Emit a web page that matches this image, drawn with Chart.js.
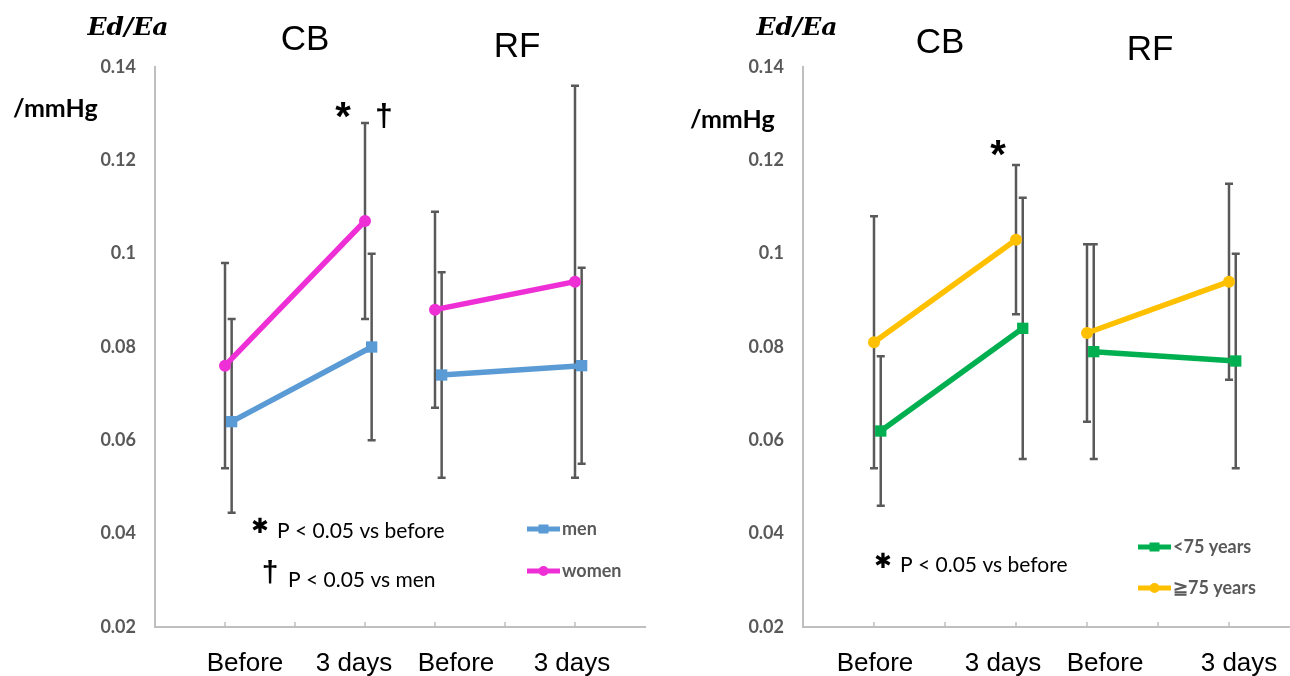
<!DOCTYPE html>
<html>
<head>
<meta charset="utf-8">
<script src="https://cdn.jsdelivr.net/npm/chart.js@4.4.1/dist/chart.umd.min.js"></script>
<style>
  html, body { margin: 0; padding: 0; background: #fff; overflow: hidden; }
  body { width: 1290px; height: 676px; position: relative; }
  .panel { position: absolute; top: 0; }
</style>
</head>
<body>
<div class="panel" style="left:0"><canvas id="sex-chart" width="660" height="676"></canvas></div>
<div class="panel" style="left:650px"><canvas id="age-chart" width="660" height="676"></canvas></div>
<script>
// ---- data (Ed/Ea, /mmHg) ----
const groups = ['CB', 'RF'];
const timepoints = ['Before', '3 days', 'Before', '3 days'];
const yTicks = [0.02, 0.04, 0.06, 0.08, 0.1, 0.12, 0.14];

const menMean = [0.064, 0.080, 0.074, 0.076];
const menLow = [0.0445, 0.060, 0.052, 0.055];
const menHigh = [0.086, 0.100, 0.096, 0.097];

const womenMean = [0.076, 0.107, 0.088, 0.094];
const womenLow = [0.054, 0.086, 0.067, 0.052];
const womenHigh = [0.098, 0.128, 0.109, 0.136];

const youngMean = [0.062, 0.084, 0.079, 0.077];
const youngLow = [0.046, 0.056, 0.056, 0.054];
const youngHigh = [0.078, 0.112, 0.102, 0.100];

const oldMean = [0.081, 0.103, 0.083, 0.094];
const oldLow = [0.054, 0.087, 0.064, 0.073];
const oldHigh = [0.108, 0.119, 0.102, 0.115];

// ---- layout ----
const slots = [1, 3, 4, 6];          // where the four time points sit on the 0..7 x axis
const tickSlots = [1, 2, 3, 4, 5, 6];
const seriesShift = 0.095;           // second series is nudged right so the bars don't overlap

const AXIS_GREY = '#bfbfbf';
const TEXT_GREY = '#595959';
const BAR_GREY = '#595959';

function withBreak(values, mapFn) {
  const out = [];
  values.forEach((v, i) => {
    out.push(mapFn(v, i));
    if (i === 1) out.push(null); // gap between CB and RF
  });
  return out;
}

function buildPoints(mean, shift) {
  const pts = withBreak(mean, (v, i) => ({ x: slots[i] + shift, y: v }));
  pts[2] = { x: (slots[1] + slots[2]) / 2, y: null };
  return pts;
}

function buildErrors(low, high) {
  return withBreak(low, (v, i) => [v, high[i]]);
}

function drawText(ctx, text, x, y, font, color, align, baseline) {
  ctx.font = font;
  ctx.fillStyle = color || '#000';
  ctx.textAlign = align || 'left';
  ctx.textBaseline = baseline || 'alphabetic';
  ctx.fillText(text, x, y);
}

const errorBarPlugin = {
  id: 'errorBars',
  beforeDatasetsDraw(chart) {
    const { ctx, scales: { x, y } } = chart;
    ctx.save();
    ctx.strokeStyle = BAR_GREY;
    ctx.lineWidth = 2.5;
    chart.data.datasets.forEach(ds => {
      ds.data.forEach((p, i) => {
        const e = ds.errors[i];
        if (!e || p.y === null) return;
        const px = x.getPixelForValue(p.x);
        const top = y.getPixelForValue(e[1]);
        const bot = y.getPixelForValue(e[0]);
        ctx.beginPath();
        ctx.moveTo(px, top); ctx.lineTo(px, bot);
        ctx.moveTo(px - 4, top); ctx.lineTo(px + 4, top);
        ctx.moveTo(px - 4, bot); ctx.lineTo(px + 4, bot);
        ctx.stroke();
      });
    });
    ctx.restore();
  }
};

const decorPlugin = {
  id: 'decor',
  afterDraw(chart, args, opts) {
    const { ctx, chartArea, scales: { x } } = chart;
    ctx.save();

    // small inward tick marks on the x axis
    ctx.strokeStyle = AXIS_GREY;
    ctx.lineWidth = 1.5;
    tickSlots.forEach(t => {
      const px = x.getPixelForValue(t);
      ctx.beginPath();
      ctx.moveTo(px, chartArea.bottom);
      ctx.lineTo(px, chartArea.bottom - 5);
      ctx.stroke();
    });

    // time point labels and group titles
    timepoints.forEach((t, i) => {
      drawText(ctx, t, x.getPixelForValue(opts.labelsAt[i]), 671, '26px "Liberation Sans"', '#000', 'center');
    });
    groups.forEach((g, i) => {
      const tt = opts.titles[i];
      drawText(ctx, g, x.getPixelForValue(tt.at), tt.y, '35px "Liberation Sans"', '#000', 'center');
    });

    // free text: axis unit, significance marks, footnotes
    opts.notes.forEach(n => drawText(ctx, n.text, n.x, n.y, n.font, n.color, n.align, n.baseline));

    // legend
    const lg = opts.legend;
    chart.data.datasets.forEach((ds, i) => {
      const ly = lg.y + i * lg.dy;
      ctx.strokeStyle = ds.borderColor;
      ctx.fillStyle = ds.borderColor;
      ctx.lineWidth = 5;
      ctx.beginPath();
      ctx.moveTo(lg.x, ly);
      ctx.lineTo(lg.x + 33, ly);
      ctx.stroke();
      const cx = lg.x + 16.5;
      if (ds.pointStyle === 'rect') {
        ctx.fillRect(cx - 5, ly - 4.5, 10, 9);
      } else {
        ctx.beginPath();
        ctx.arc(cx, ly, 5, 0, Math.PI * 2);
        ctx.fill();
      }
      drawText(ctx, ds.label, lg.x + 35, ly + 6, 'bold 18px Lato', TEXT_GREY, 'left');
    });

    ctx.restore();
  }
};

function makeSeries(label, mean, low, high, color, pointStyle, shift) {
  return {
    label,
    data: buildPoints(mean, shift),
    errors: buildErrors(low, high),
    borderColor: color,
    backgroundColor: color,
    borderWidth: 5.5,
    pointStyle,
    pointRadius: pointStyle === 'rect' ? 8 : 6,
    pointBorderWidth: 0,
    spanGaps: false,
    tension: 0
  };
}

function makeChart(canvasId, datasets, layout) {
  return new Chart(document.getElementById(canvasId), {
    type: 'line',
    data: { datasets },
    options: {
      responsive: false,
      animation: false,
      devicePixelRatio: 1,
      layout: { padding: { top: 67, right: layout.padRight, bottom: 0, left: 0 } },
      plugins: {
        legend: { display: false },
        tooltip: { enabled: false },
        decor: layout
      },
      scales: {
        x: {
          type: 'linear', min: 0, max: 7,
          afterFit: s => { s.height = 49; },
          grid: { display: false, drawTicks: false },
          border: { color: AXIS_GREY, width: 2 },
          ticks: { display: false }
        },
        y: {
          type: 'linear', min: 0.02, max: 0.14,
          afterBuildTicks: s => { s.ticks = yTicks.map(v => ({ value: v })); },
          afterFit: s => { s.width = layout.yWidth; },
          grid: { display: false, drawTicks: false },
          border: { color: AXIS_GREY, width: 2 },
          ticks: {
            padding: 19,
            color: TEXT_GREY,
            font: { family: 'Lato', weight: 'bold', size: 18 },
            callback: v => String(+v.toFixed(2))
          }
        }
      }
    },
    plugins: [errorBarPlugin, decorPlugin]
  });
}

const unitFont = 'bold italic 25px "DejaVu Serif"';
const mmHgFont = 'bold 25px Lato';
const noteFont = '21px Lato';
const starFont = 'bold 40px "Liberation Sans"';

// left panel: men vs women
makeChart('sex-chart', [
  makeSeries('men', menMean, menLow, menHigh, '#5b9bd5', 'rect', seriesShift),
  makeSeries('women', womenMean, womenLow, womenHigh, '#ee2fd6', 'circle', 0)
], {
  yWidth: 155,
  padRight: 15,
  labelsAt: [1.286, 2.843, 4.3, 5.957],
  titles: [{ at: 2.143, y: 50 }, { at: 5.171, y: 57 }],
  legend: { x: 527, y: 529, dy: 42 },
  notes: [
    { text: 'Ed/Ea', x: 128, y: 35, font: unitFont, align: 'center' },
    { text: '/mmHg', x: 13, y: 117, font: mmHgFont },
    { text: '*', x: 343, y: 130, font: starFont, align: 'center' },
    { text: '†', x: 384, y: 126, font: 'bold 32px "Liberation Sans"', align: 'center' },
    { text: '✱', x: 260, y: 528, font: 'bold 21px "DejaVu Sans"', align: 'center', baseline: 'middle' },
    { text: 'P < 0.05 vs before', x: 277, y: 538, font: noteFont },
    { text: '†', x: 270, y: 582, font: 'bold 30px "Liberation Sans"', align: 'center' },
    { text: 'P < 0.05 vs men', x: 288, y: 587, font: noteFont }
  ]
});

// right panel: <75 vs >=75 years (canvas starts at x = 650)
makeChart('age-chart', [
  makeSeries('<75 years', youngMean, youngLow, youngHigh, '#00b050', 'rect', seriesShift),
  makeSeries('≧75 years', oldMean, oldLow, oldHigh, '#ffc000', 'circle', 0)
], {
  yWidth: 153,
  padRight: 10,
  labelsAt: [1.014, 2.817, 4.254, 6.141],
  titles: [{ at: 1.93, y: 53 }, { at: 4.887, y: 60 }],
  legend: { x: 488, y: 547, dy: 41 },
  notes: [
    { text: 'Ed/Ea', x: 147, y: 35, font: unitFont, align: 'center' },
    { text: '/mmHg', x: 40, y: 128, font: mmHgFont },
    { text: '*', x: 348, y: 168, font: starFont, align: 'center' },
    { text: '✱', x: 233, y: 563, font: 'bold 21px "DejaVu Sans"', align: 'center', baseline: 'middle' },
    { text: 'P < 0.05 vs before', x: 250, y: 572, font: noteFont }
  ]
});
</script>
</body>
</html>
